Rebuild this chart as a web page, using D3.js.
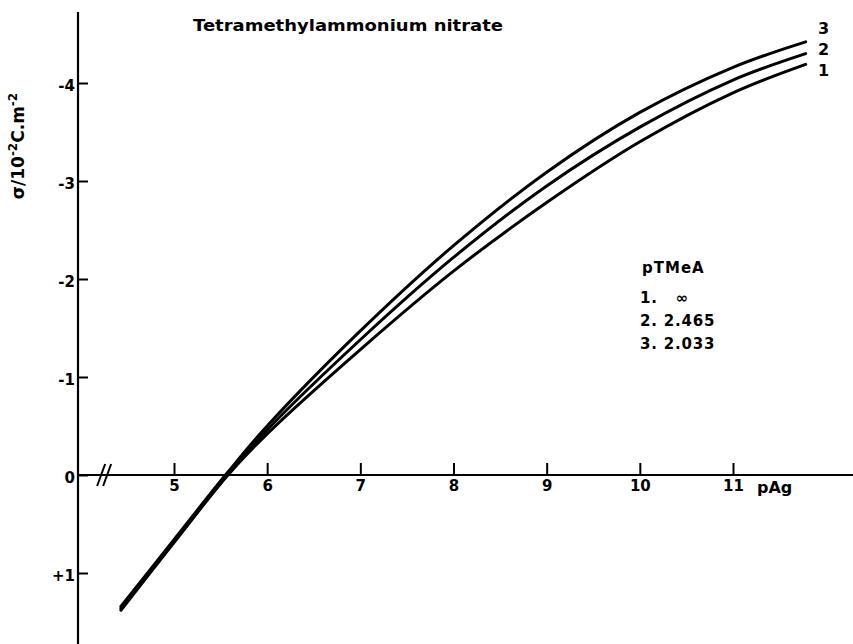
<!DOCTYPE html>
<html>
<head>
<meta charset="utf-8">
<script src="https://cdn.jsdelivr.net/npm/d3@7"></script>
<style>
  body { margin: 0; background: #fff; }
  text { font-family: "DejaVu Sans", sans-serif; fill: #000; }
</style>
</head>
<body>
<svg id="drawing_region"></svg>
<script>
const pAg = [4.43, 5.0, 5.57, 6, 7, 8, 9, 10, 11, 11.78];
// surface charge, sigma / 10^-2 C m^-2 (negative is plotted upward)
const sigma1 = [1.38, 0.69, 0.01, -0.42, -1.28, -2.08, -2.78, -3.40, -3.90, -4.19];
const sigma2 = [1.36, 0.68, 0.0, -0.46, -1.38, -2.22, -2.95, -3.55, -4.03, -4.30];
const sigma3 = [1.34, 0.66, -0.02, -0.50, -1.47, -2.34, -3.09, -3.70, -4.16, -4.42];
const curveNames = ["1", "2", "3"];

const xTicks = [5, 6, 7, 8, 9, 10, 11];
const yTicks = [-4, -3, -2, -1, 0, 1];
const yTickLabels = ["-4", "-3", "-2", "-1", "0", "+1"];

const legendTitle = "pTMeA";
const legendItems = ["1.   \u221e", "2. 2.465", "3. 2.033"];

const width = 853, height = 644;

const svg = d3.select('#drawing_region')
    .attr('width', width)
    .attr('height', height);

const xscale = d3.scaleLinear().domain([5, 11]).range([174, 733]);
const yscale = d3.scaleLinear().domain([-4, 1]).range([83, 573]);

// axis lines run past the ticks like in the original drawing
const xExtent = [xscale.invert(78), xscale.invert(853)];
const yExtent = [yscale.invert(12), yscale.invert(644)];

svg.append('line')
    .attr('x1', xscale(xExtent[0])).attr('x2', xscale(xExtent[1]))
    .attr('y1', yscale(0)).attr('y2', yscale(0))
    .attr('stroke', '#000').attr('stroke-width', 2.2);

svg.append('line')
    .attr('x1', xscale(xExtent[0])).attr('x2', xscale(xExtent[0]))
    .attr('y1', yscale(yExtent[0])).attr('y2', yscale(yExtent[1]))
    .attr('stroke', '#000').attr('stroke-width', 2.2);

const xaxis = d3.axisBottom(xscale)
    .tickValues(xTicks)
    .tickSize(-12)
    .tickPadding(5)
    .tickFormat(d3.format('d'));

const xg = svg.append('g')
    .attr('transform', `translate(0, ${yscale(0)})`)
    .call(xaxis);
xg.select('.domain').remove();
xg.selectAll('line').attr('stroke', '#000').attr('stroke-width', 2);
xg.selectAll('text')
    .attr('font-size', 15).attr('font-weight', 'bold')
    .attr('font-family', '"DejaVu Sans", sans-serif');

const yaxis = d3.axisLeft(yscale)
    .tickValues(yTicks)
    .tickSize(-10)
    .tickPadding(3)
    .tickFormat((d, i) => yTickLabels[i]);

const yg = svg.append('g')
    .attr('transform', `translate(${xscale(xExtent[0])}, 0)`)
    .call(yaxis);
yg.select('.domain').remove();
yg.selectAll('line').attr('stroke', '#000').attr('stroke-width', 2);
yg.selectAll('text')
    .attr('font-size', 15).attr('font-weight', 'bold')
    .attr('font-family', '"DejaVu Sans", sans-serif')
    .attr('dy', '0.5em');

// axis break marks
const bx = xscale(4.25), by = yscale(0);
[-3, 3].forEach(off => {
    svg.append('line')
        .attr('x1', bx + off - 4).attr('y1', by + 11)
        .attr('x2', bx + off + 4).attr('y2', by - 11)
        .attr('stroke', '#000').attr('stroke-width', 2);
});

// curves
const line = d3.line()
    .x((d, i) => xscale(pAg[i]))
    .y(d => yscale(d))
    .curve(d3.curveCatmullRom.alpha(0.5));

[sigma1, sigma2, sigma3].forEach(s => {
    svg.append('path')
        .attr('d', line(s))
        .attr('fill', 'none')
        .attr('stroke', '#000')
        .attr('stroke-width', 3)
        .attr('stroke-linecap', 'round');
});

// curve numbers at the right ends, stacked 3 / 2 / 1
[sigma1, sigma2, sigma3].forEach((s, i) => {
    svg.append('text')
        .attr('x', xscale(pAg[pAg.length - 1]) + 18)
        .attr('y', yscale(sigma3[sigma3.length - 1]) + 29 - i * 21)
        .attr('text-anchor', 'middle')
        .attr('font-size', 16).attr('font-weight', 'bold')
        .attr('dy', '0.35em')
        .text(curveNames[i]);
});

// title
svg.append('text')
    .attr('x', 193).attr('y', 31)
    .attr('font-size', 15).attr('font-weight', 'bold')
    .attr('textLength', 310).attr('lengthAdjust', 'spacingAndGlyphs')
    .text('Tetramethylammonium  nitrate');

// axis labels
svg.append('text')
    .attr('x', 757).attr('y', 493)
    .attr('font-size', 16).attr('font-weight', 'bold')
    .text('pAg');

const ylab = svg.append('text')
    .attr('transform', 'translate(24, 146) rotate(-90)')
    .attr('text-anchor', 'middle')
    .attr('font-size', 17).attr('font-weight', 'bold');
ylab.append('tspan').text('\u03c3/10');
ylab.append('tspan').attr('dy', -7).attr('font-size', 12).text('-2');
ylab.append('tspan').attr('dy', 7).text('C.m');
ylab.append('tspan').attr('dy', -7).attr('font-size', 12).text('-2');

// legend
svg.append('text')
    .attr('x', 642).attr('y', 273)
    .attr('font-size', 15).attr('font-weight', 'bold')
    .attr('letter-spacing', 1)
    .text(legendTitle);

svg.selectAll('.legend-item')
    .data(legendItems)
    .enter()
    .append('text')
    .attr('class', 'legend-item')
    .attr('x', 640)
    .attr('y', (d, i) => 303 + i * 23)
    .attr('font-size', 15).attr('font-weight', 'bold')
    .attr('letter-spacing', 0.8)
    .style('white-space', 'pre')
    .text(d => d);
</script>
</body>
</html>
